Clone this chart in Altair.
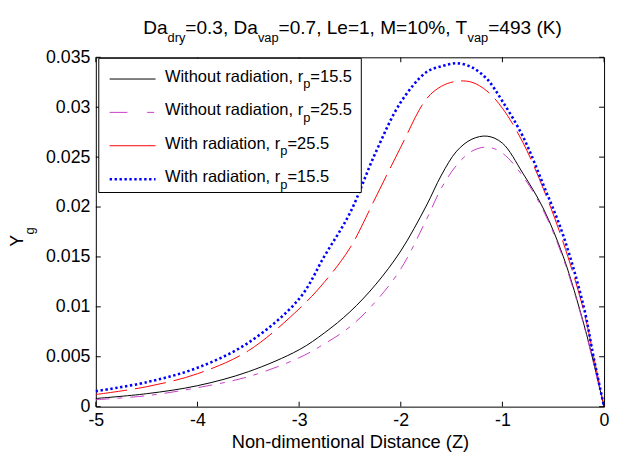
import altair as alt
import pandas as pd

# ---------------- data ----------------
z = [-5, -4.5, -4, -3.5, -3, -2.75, -2.5, -2.25, -2.0, -1.75, -1.6, -1.45,
     -1.3, -1.15, -1.0, -0.8, -0.6, -0.4, -0.2, -0.1, 0]
without_rp155 = [0.00082, 0.00130, 0.0021, 0.0035, 0.0057, 0.0074, 0.0095, 0.0122,
                 0.0156, 0.0201, 0.0232, 0.0256, 0.0268, 0.0271, 0.0264, 0.0234,
                 0.0199, 0.0150, 0.0083, 0.0043, 0.0]
without_rp255 = [0.0007, 0.00110, 0.0019, 0.0030, 0.0049, 0.0063, 0.0080, 0.0105,
                 0.0138, 0.0187, 0.0219, 0.0242, 0.0256, 0.0260, 0.0254, 0.0231,
                 0.0197, 0.0148, 0.0082, 0.0042, 0.0]
with_rp255 = [0.00122, 0.00200, 0.0033, 0.0056, 0.0098, 0.0125, 0.0159, 0.0209,
              0.0260, 0.0308, 0.0321, 0.0326, 0.0325, 0.0316, 0.0299, 0.0265,
              0.0219, 0.0164, 0.0096, 0.0049, 0.0]
with_rp155 = [0.00155, 0.00245, 0.0039, 0.0064, 0.0108, 0.0151, 0.0194, 0.0254,
              0.0305, 0.0335, 0.0341, 0.0344, 0.0340, 0.0328, 0.0306, 0.0271,
              0.0223, 0.0171, 0.0100, 0.0048, 0.0]

series_values = [without_rp155, without_rp255, with_rp255, with_rp155]
legend_names = ["Without radiation", "Without radiation", "With radiation", "With radiation"]
rp_values = ["15.5", "25.5", "25.5", "15.5"]

x_ticks = [-5, -4, -3, -2, -1, 0]
y_ticks = [0, 0.005, 0.01, 0.015, 0.02, 0.025, 0.03, 0.035]

subtitle_parts = [("Da", False), ("dry", True), ("=0.3, Da", False), ("vap", True),
                  ("=0.7, Le=1, M=10%, T", False), ("vap", True), ("=493 (K)", False)]
x_title = "Non-dimentional Distance (Z)"

# ---------------- styles ----------------
colors = ["#000000", "#c83cc8", "#ff0000", "#0000ff"]
widths = [1.0, 1.0, 1.0, 2.6]
plot_dash = [None, [14, 8, 5, 8], [32, 8], [2.4, 2.6]]
legend_dash = [None, [18, 20, 7, 30], None, [2.4, 2.6]]

FONT = "Liberation Sans"
W, H = 515, 354
OX, OY = 97, 55  # page position of plot origin

ARIAL = {' ': 278, '(': 333, ')': 333, ',': 278, '.': 278, '%': 889, '=': 584,
         '-': 333, 'D': 722, 'K': 667, 'L': 556, 'M': 833, 'T': 611, 'W': 944,
         'a': 556, 'd': 556, 'e': 556, 'p': 556, 'r': 333, 'v': 500, 'y': 500,
         'i': 222, 't': 278, 'h': 556, 'o': 556, 'u': 556, 'n': 556}
for ch in "0123456789":
    ARIAL[ch] = 556


def tw(s, size):
    return sum(ARIAL.get(c, 556) for c in s) * size / 1000.0


def txt(text, x, y, size, angle=0):
    kw = dict(text=text, align="left", baseline="alphabetic", fontSize=size,
              font=FONT, color="black")
    if angle:
        kw["angle"] = angle
    return alt.Chart(alt.Data(values=[{}])).mark_text(**kw).encode(
        x=alt.value(x), y=alt.value(y))


rows = []
for i, vals in enumerate(series_values):
    for zz, v in zip(z, vals):
        rows.append({"z": zz, "y": v, "s": i})
df = pd.DataFrame(rows)

x_enc = alt.X("z:Q", scale=alt.Scale(domain=[-5, 0], nice=False, zero=False),
              axis=alt.Axis(values=x_ticks, tickSize=0, domain=False, grid=False,
                            labelExpr="toString(datum.value)", labelFont=FONT,
                            labelFontSize=18, labelColor="black", labelPadding=5,
                            labelFlush=False, labelOverlap=False,
                            title=x_title, titleFont=FONT, titleFontSize=18.5,
                            titleFontWeight="normal", titleColor="black",
                            titlePadding=3))
y_enc = alt.Y("y:Q", scale=alt.Scale(domain=[0, 0.035], nice=False, zero=False),
              axis=alt.Axis(values=y_ticks, tickSize=0, domain=False, grid=False,
                            labelExpr="format(datum.value, '~g')", labelFont=FONT,
                            labelFontSize=18, labelColor="black", labelPadding=6,
                            labelFlush=False, labelOverlap=False, title=None))

layers = []
for i in range(4):
    kw = dict(color=colors[i], strokeWidth=widths[i], interpolate="catmull-rom",
              strokeCap="butt")
    if plot_dash[i]:
        kw["strokeDash"] = plot_dash[i]
    layers.append(alt.Chart(df).transform_filter(alt.datum.s == i)
                  .mark_line(**kw).encode(x=x_enc, y=y_enc))

# inward ticks on all four sides
xt = pd.DataFrame({"z": x_ticks})
yt = pd.DataFrame({"y": y_ticks})
tick_style = dict(color="black", strokeWidth=1)
layers.append(alt.Chart(xt).mark_rule(**tick_style).encode(x=x_enc, y=alt.value(H), y2=alt.value(H - 5)))
layers.append(alt.Chart(xt).mark_rule(**tick_style).encode(x=x_enc, y=alt.value(0), y2=alt.value(5)))
layers.append(alt.Chart(yt).mark_rule(**tick_style).encode(y=y_enc, x=alt.value(0), x2=alt.value(5)))
layers.append(alt.Chart(yt).mark_rule(**tick_style).encode(y=y_enc, x=alt.value(W - 5), x2=alt.value(W)))

# legend box
layers.append(alt.Chart(alt.Data(values=[{}])).mark_rect(fill="white", stroke="black", strokeWidth=1)
              .encode(x=alt.value(100 - OX), x2=alt.value(366 - OX),
                      y=alt.value(56 - OY), y2=alt.value(192 - OY)))
row_base = [80.0, 113.8, 147.6, 181.5]
for i in range(4):
    kw = dict(color=colors[i], strokeWidth=widths[i], strokeCap="butt")
    if legend_dash[i]:
        kw["strokeDash"] = legend_dash[i]
    ly = row_base[i] - 3 - OY
    layers.append(alt.Chart(alt.Data(values=[{}])).mark_rule(**kw)
                  .encode(x=alt.value(111 - OX), x2=alt.value(157.5 - OX), y=alt.value(ly)))
    main = legend_names[i] + ", r"
    x0 = 167 - OX
    b = row_base[i] - OY
    layers.append(txt(main, x0, b, 16.7))
    x1 = x0 + tw(main, 16.7)
    layers.append(txt("p", x1, b + 6.5, 13))
    x2 = x1 + tw("p", 13)
    layers.append(txt("=" + rp_values[i], x2, b, 16.7))

# subtitle with subscripts
xc = 145 - OX
for s, sub in subtitle_parts:
    size = 13 if sub else 19.3
    yb = (31.7 + 7.3 if sub else 31.7) - OY
    layers.append(txt(s, xc, yb, size))
    xc += tw(s, size)

# y-axis title  Y_g
layers.append(txt("Y", 23 - OX, 247 - OY, 18, angle=270))
layers.append(txt("g", 34 - OX, 234.5 - OY, 13, angle=270))

chart = (alt.layer(*layers)
         .properties(width=W, height=H, background="white",
                     padding={"left": OX - 8, "top": OY - 8, "right": 5, "bottom": 45},
                     autosize=alt.AutoSizeParams(type="none"))
         .configure_view(stroke="black", strokeWidth=1))

chart.save("out.html", embed_options={"renderer": "svg", "actions": False})
